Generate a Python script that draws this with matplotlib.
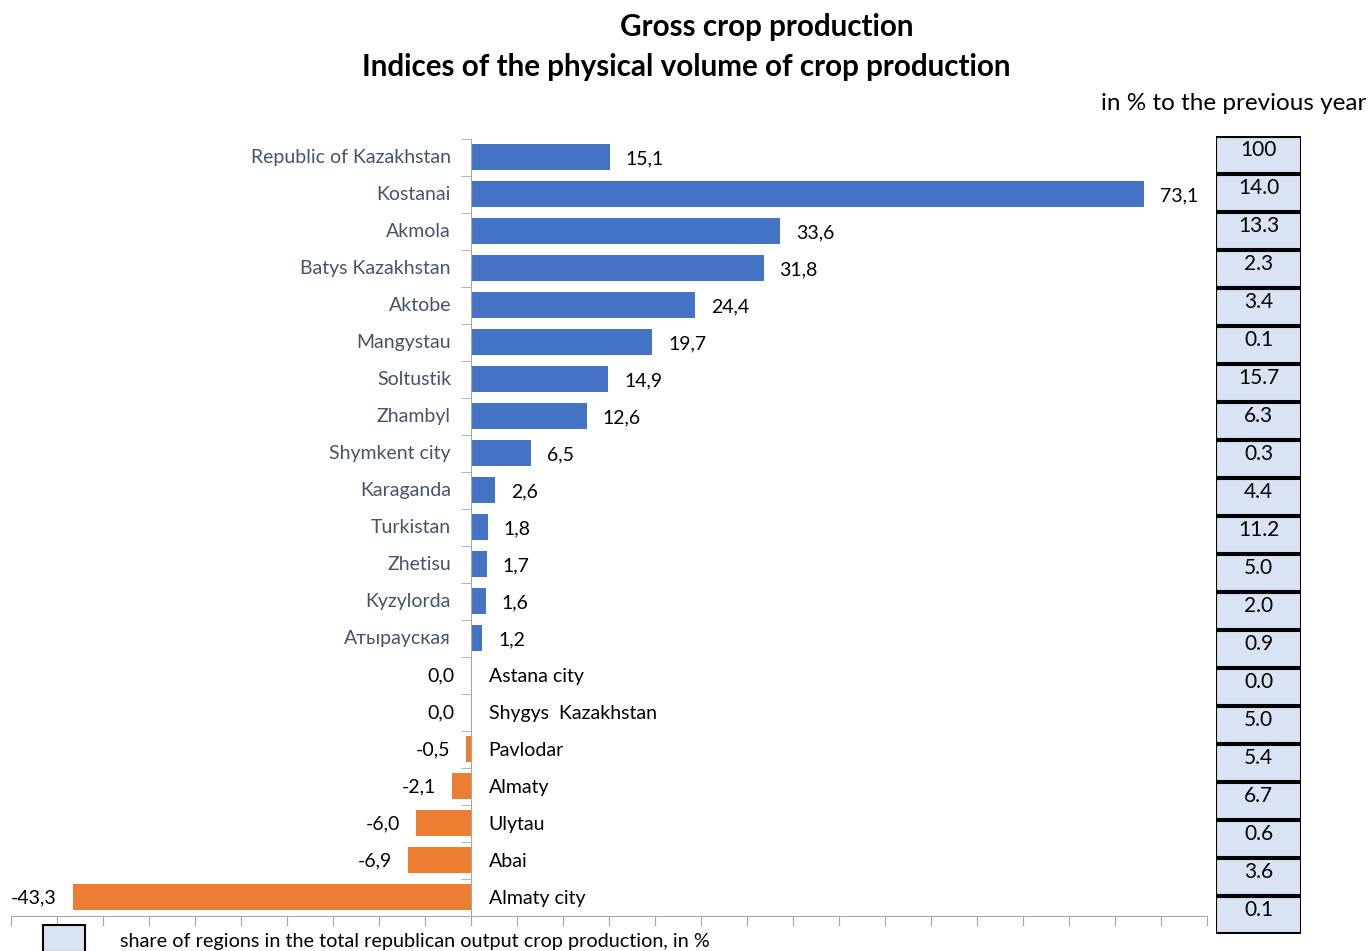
import matplotlib
matplotlib.use("Agg")
import matplotlib.pyplot as plt
from matplotlib.patches import Rectangle

# data
regions = ["Republic of Kazakhstan", "Kostanai", "Akmola", "Batys Kazakhstan", "Aktobe",
           "Mangystau", "Soltustik", "Zhambyl", "Shymkent city", "Karaganda", "Turkistan",
           "Zhetisu", "Kyzylorda", "Атырауская", "Astana city", "Shygys  Kazakhstan",
           "Pavlodar", "Almaty", "Ulytau", "Abai", "Almaty city"]
growth = [15.1, 73.1, 33.6, 31.8, 24.4, 19.7, 14.9, 12.6, 6.5, 2.6, 1.8, 1.7, 1.6, 1.2,
          0.0, 0.0, -0.5, -2.1, -6.0, -6.9, -43.3]
share = [100, 14.0, 13.3, 2.3, 3.4, 0.1, 15.7, 6.3, 0.3, 4.4, 11.2, 5.0, 2.0, 0.9,
         0.0, 5.0, 5.4, 6.7, 0.6, 3.6, 0.1]

BLUE = "#4472C4"
ORANGE = "#ED7D31"
LABEL_GREY = "#44546A"
BOX_FILL = "#DAE3F3"
AXIS_GREY = "#A6A6A6"

plt.rcParams["font.family"] = ["Lato", "DejaVu Sans"]

W, H = 1370, 951
fig = plt.figure(figsize=(W / 100, H / 100), dpi=100)

# main bar chart
ax = fig.add_axes([11 / W, (H - 915.5) / H, (1207 - 11) / W, (915.5 - 138.5) / H])
y = list(range(len(regions)))
colors = [BLUE if v > 0 else ORANGE for v in growth]
ax.barh(y, growth, height=0.7, color=colors)
ax.set_xlim(-50, 80)
ax.set_ylim(len(regions) - 0.5, -0.5)

for side in ["top", "right"]:
    ax.spines[side].set_visible(False)
ax.spines["left"].set_position(("data", 0))
ax.spines["left"].set_color(AXIS_GREY)
ax.spines["bottom"].set_color(AXIS_GREY)
ax.set_xticks(range(-50, 81, 5))
ax.set_xticklabels([])
ax.set_yticks([])
ax.set_yticks([i + 0.5 for i in range(-1, len(regions))], minor=True)
ax.tick_params(axis="x", direction="out", length=7, color=AXIS_GREY)
ax.tick_params(axis="y", which="minor", direction="out", length=7, color=AXIS_GREY)

off = 16 * 72 / 100  # 16 px in points
for i, (name, v) in enumerate(zip(regions, growth)):
    txt = f"{v:.1f}".replace(".", ",")
    if v > 0:
        ax.annotate(txt, (v, i), xytext=(off, -1), textcoords="offset points",
                    ha="left", va="center", fontsize=14, color="black")
        ax.annotate(name, (0, i), xytext=(-off * 1.25, -0.5), textcoords="offset points",
                    ha="right", va="center", fontsize=14, color=LABEL_GREY)
    else:
        ax.annotate(txt, (v, i), xytext=(-off, -0.5), textcoords="offset points",
                    ha="right", va="center", fontsize=14, color="black")
        ax.annotate(name, (0, i), xytext=(off * 1.1, -1), textcoords="offset points",
                    ha="left", va="center", fontsize=14, color="black")

# share column on the right
bx = fig.add_axes([1216 / W, (H - 934) / H, 85 / W, 798 / H])
bx.barh(y, [1] * len(share), left=0, height=0.94, color=BOX_FILL,
        edgecolor="black", linewidth=1.5)
bx.set_xlim(0, 1)
bx.set_ylim(len(share) - 0.5, -0.5)
bx.axis("off")
for i, s in enumerate(share):
    label = "100" if s == 100 else f"{s:.1f}"
    bx.text(0.5, i - 0.14, label, ha="center", va="center", fontsize=15)

# titles
fig.text(767 / W, 1 - 27 / H, "Gross crop production", ha="center", va="center",
         fontsize=21.3, fontweight="bold")
fig.text(686 / W, 1 - 67 / H, "Indices of the physical volume of crop production",
         ha="center", va="center", fontsize=21.3, fontweight="bold")
fig.text(1366 / W, 1 - 103 / H, "in % to the previous year", ha="right", va="center",
         fontsize=17.5)

# legend
fig.patches.append(Rectangle((43 / W, (H - 952) / H), 42 / W, 27 / H,
                             transform=fig.transFigure, facecolor=BOX_FILL,
                             edgecolor="black", linewidth=1.5))
fig.text(120 / W, 1 - 941 / H,
         "share of regions in the total republican output crop production, in %",
         ha="left", va="center", fontsize=14.3)

fig.savefig("out.png", dpi=100)
